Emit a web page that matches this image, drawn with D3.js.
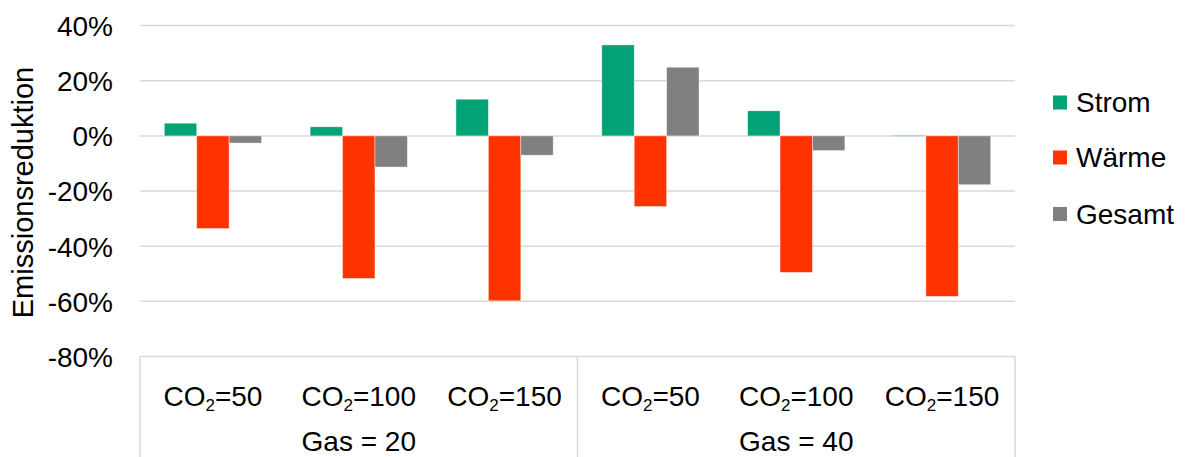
<!DOCTYPE html>
<html><head><meta charset="utf-8">
<script src="https://cdn.jsdelivr.net/npm/d3@7"></script>
<style>body{margin:0;background:#fff}svg{display:block;font-family:"Liberation Sans",Arial,sans-serif}</style>
</head><body><svg id="c" width="1185" height="457"></svg>
<script>
const categories = ["CO2=50","CO2=100","CO2=150","CO2=50","CO2=100","CO2=150"];
const co2Values = ["50","100","150","50","100","150"];
const groups = ["Gas = 20","Gas = 40"];
const seriesNames = ["Strom","Wärme","Gesamt"];
const strom  = [0.046, 0.033, 0.133, 0.330, 0.091, 0.002];
const waerme = [-0.336, -0.517, -0.598, -0.256, -0.495, -0.582];
const gesamt = [-0.026, -0.113, -0.070, 0.249, -0.053, -0.177];
const yTicks = [0.4,0.2,0,-0.2,-0.4,-0.6,-0.8];
const colors = ["#00A276","#FF3300","#808080"];

const series = [strom, waerme, gesamt];
const svg = d3.select("#c");
const left = 140, right = 1015;
const y = d3.scaleLinear().domain([-0.8,0.4]).range([356.5,25.6]);
const x = d3.scaleBand().domain(d3.range(categories.length)).range([left,right]).padding(0);
const bw = x.bandwidth()/4.5;
const xs = d3.scaleBand().domain(d3.range(3)).range([0.75*bw, 3.75*bw]).padding(0);
const fs = 28;

// gridlines
svg.append("g").selectAll("line").data(yTicks).join("line")
  .attr("x1",left).attr("x2",right).attr("y1",d=>y(d)).attr("y2",d=>y(d))
  .attr("stroke","#d9d9d9").attr("stroke-width",1.5);

// y axis labels via d3 axis
const yAxis = d3.axisLeft(y).tickValues(yTicks).tickFormat(d=>Math.round(d*100)+"%").tickSize(0).tickPadding(0);
const ga = svg.append("g").attr("transform","translate(113,0)").call(yAxis);
ga.select(".domain").remove();
ga.selectAll("text").attr("font-size",fs).attr("fill","#000").attr("font-family","Liberation Sans, Arial, sans-serif").attr("dy","0.35em");

// axis title
svg.append("text").attr("transform","translate(33,192.5) rotate(-90)")
  .attr("text-anchor","middle").attr("font-size",29).attr("fill","#000").text("Emissionsreduktion");

// bars
series.forEach((vals,si)=>{
  svg.append("g").selectAll("rect").data(vals).join("rect")
    .attr("x",(d,i)=>x(i)+xs(si)).attr("width",xs.bandwidth())
    .attr("y",d=>y(Math.max(0,d))).attr("height",d=>Math.max(0.8,Math.abs(y(d)-y(0))))
    .attr("fill",colors[si]).attr("stroke","#ffffff").attr("stroke-opacity",0.5).attr("stroke-width",0.8);
});

// category axis box lines
const sepX = [left, x(3), right];
svg.append("g").selectAll("line").data(sepX).join("line")
  .attr("x1",d=>d).attr("x2",d=>d).attr("y1",y(-0.8)).attr("y2",457)
  .attr("stroke","#d9d9d9").attr("stroke-width",1.5);

// category labels with subscript
const cl = svg.append("g").selectAll("text").data(categories).join("text")
  .attr("x",(d,i)=>x(i)+x.bandwidth()/2).attr("y",406)
  .attr("text-anchor","middle").attr("font-size",fs).attr("fill","#000");
cl.append("tspan").text("CO");
cl.append("tspan").attr("font-size",17).attr("dy",5).text("2");
cl.append("tspan").attr("dy",-5).text((d,i)=>"="+co2Values[i]);

// group labels
svg.append("g").selectAll("text").data(groups).join("text")
  .attr("x",(d,i)=>(sepX[i]+sepX[i+1])/2).attr("y",451)
  .attr("text-anchor","middle").attr("font-size",fs).attr("fill","#000").text(d=>d);

// legend
const lg = svg.append("g").selectAll("g").data(seriesNames).join("g")
  .attr("transform",(d,i)=>`translate(1053,${[102.5,157.5,214][i]})`);
lg.append("rect").attr("x",0).attr("y",-7).attr("width",14).attr("height",14).attr("fill",(d,i)=>colors[i]);
lg.append("text").attr("x",23).attr("y",0).attr("dy","0.35em").attr("font-size",fs).attr("fill","#000").text(d=>d);
</script></body></html>
